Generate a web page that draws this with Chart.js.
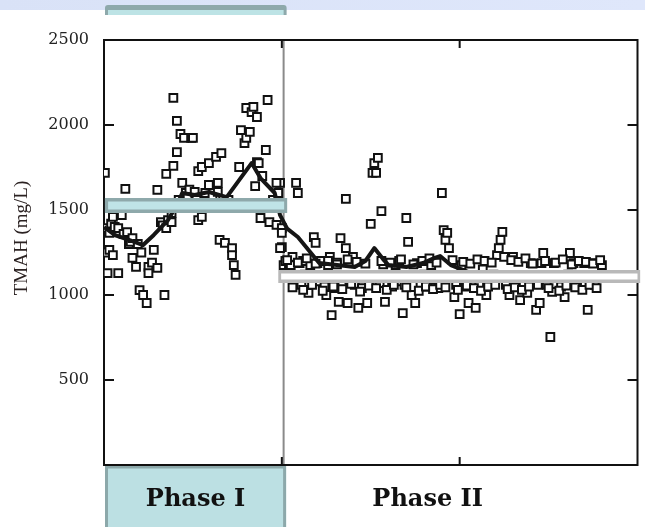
<!DOCTYPE html>
<html>
<head>
<meta charset="utf-8">
<script src="https://cdn.jsdelivr.net/npm/chart.js@4.4.1/dist/chart.umd.min.js"></script>
<style>
  html, body { margin:0; padding:0; background:#fff; }
  #wrap { position:relative; width:645px; height:527px; }
</style>
</head>
<body>
<div id="wrap"><canvas id="c" width="645" height="527"></canvas></div>
<script>
'use strict';

// --- Data (days vs TMAH mg/L) ---
const phase1Day  = [0.5,0.5,1,2,3,3,4,5,5,6,8,8,10,11,12,13,14,15,16,16,18,19,20,21,22,24,25,25,27,28,30,30,32,33,34,35,35,36,38,38,39,39,40,41,41,42,43,44,45,46,47,48,49,50,51,52,53,53,55,55,57,59,59,61,63,64,64,65,66,67,68,70,72,72,73,74,76,77,79,80,80,82,83,84,85,86,86,87,88,89,91,92,93,95,97,97,98,99,100,100];
const phase1Tmah = [1718,1394,1250,1129,1365,1265,1420,1459,1235,1400,1394,1129,1470,1360,1624,1370,1300,1312,1335,1218,1165,1300,1029,1250,1000,953,1165,1129,1190,1265,1159,1618,1429,1410,1000,1394,1712,1440,1429,1482,1759,2159,1520,2024,1841,1560,1947,1659,1924,1600,1570,1620,1924,1924,1606,1560,1729,1441,1753,1459,1600,1776,1647,1580,1812,1659,1606,1324,1835,1560,1306,1560,1276,1235,1176,1118,1753,1970,1894,2100,1924,1959,2076,2106,1640,2047,1782,1776,1453,1700,1853,2147,1429,1560,1659,1412,1600,1276,1394,1365];

const phase2Day  = [99,100,101,102,104,105,106,107,108,109,110,111,112,113,115,116,118,119,120,121,122,124,125,126,127,128,129,130,131,132,133,134,136,136,137,138,140,141,143,145,146,148,150,151,152,153,154,155,156,157,158,160,162,164,165,166,168,169,170,171,172,173,175,176,178,180,182,184,186,188,190,191,192,193,194,195,197,198,200,201,203,205,207,209,211,213,215,217,219,221,222,223,224,225,226,228,230,232,234,236,238,240,242,243,245,246,247,249,251,252,253,255,257,259,261,262,264,266,268,270,272,274,276,278,280,
  103,106,109,112,114,117,119,123,126,129,131,134,137,139,142,144,147,149,153,156,159,161,163,167,170,174,177,179,181,183,185,187,189,192,196,199,202,204,206,208,210,212,214,216,218,220,227,229,231,233,235,237,239,241,244,248,250,254,256,258,260,263,265,267,269,271,273,275,277,279];
const phase2Tmah = [1659,1282,1176,1200,1150,1176,1224,1100,1659,1600,1188,1060,1200,1120,1012,1176,1341,1306,1188,1080,1200,1050,1000,1176,1224,882,1100,1041,1190,959,1335,1070,1276,1565,953,1090,1224,1060,924,1041,1100,953,1418,1718,1776,1718,1806,1070,1494,1180,959,1100,1050,1176,1080,1200,894,1060,1453,1312,1100,1000,953,1188,1060,1120,1050,1176,1090,1040,1600,1382,1324,1365,1276,1100,988,1060,888,1176,1050,953,1100,924,1060,1150,1000,1070,1120,1235,1276,1324,1371,1224,1060,1000,1224,1100,970,1060,1012,1188,1100,912,953,1188,1247,1060,753,1018,1188,1100,1050,988,1120,1247,1188,1060,1100,1188,912,1188,1060,1100,1176,
  1205,1045,1190,1030,1215,1060,1185,1025,1200,1050,1180,1035,1210,1065,1195,1020,1185,1055,1040,1200,1030,1190,1060,1210,1045,1180,1025,1200,1050,1215,1035,1190,1060,1045,1205,1030,1195,1055,1185,1040,1210,1025,1200,1050,1190,1060,1035,1205,1045,1195,1030,1215,1050,1185,1060,1200,1040,1190,1025,1210,1055,1180,1045,1200,1030,1195,1060,1185,1040,1205];

// running trend
const trendDay  = [0,6,14,22,28,36,41,44,51,59,69,76,83,88,96,99,103,109,115,121,131,141,147,152,157,160,170,180,186,189,195,205,230,250,270,280];
const trendTmah = [1400,1353,1324,1294,1353,1441,1529,1600,1588,1606,1576,1676,1776,1688,1600,1470,1390,1341,1265,1188,1176,1165,1200,1276,1210,1176,1165,1190,1218,1229,1176,1135,1125,1130,1125,1130];

// phase means
const phase1Mean = 1526;
const phase2Mean = 1109;
const phaseSplit = 101;

const yTicks = [500,1000,1500,2000,2500];
const xTicks = [100,200];
const phaseLabels = ['Phase I','Phase II'];
const yTitle = 'TMAH (mg/L)';

// --- Utils ---
const pts = (xs, ys) => xs.map((x,i)=>({x, y: ys[i]}));
const hline = (x0, x1, y) => [{x:x0, y}, {x:x1, y}];

const decor = {
  id: 'decor',
  beforeDraw(chart){
    const ctx = chart.ctx;
    const xs = chart.scales.x;
    const W = chart.width, H = chart.height;
    ctx.save();
    // header strip
    const g = ctx.createLinearGradient(0,0,W,0);
    g.addColorStop(0,'#d9e2f7'); g.addColorStop(1,'#dfe7fb');
    ctx.fillStyle = g; ctx.fillRect(0,0,W,10);
    // header teal tab
    const hx0 = xs.getPixelForValue(0)+1, hx1 = xs.getPixelForValue(phaseSplit)+3;
    ctx.fillStyle = '#8ea9ab';
    ctx.beginPath(); ctx.roundRect(hx0, 5, hx1-hx0, 14, 3); ctx.fill();
    ctx.fillStyle = '#bde3e5';
    ctx.fillRect(hx0+3, 10, hx1-hx0-6, 9);
    ctx.fillStyle = '#fff'; ctx.fillRect(0, 15, W, 10);
    // bottom phase I box
    const bx0 = xs.getPixelForValue(0)+1, bx1 = xs.getPixelForValue(phaseSplit)+2.5;
    const by0 = chart.chartArea.bottom + 2;
    ctx.fillStyle = '#bce0e3';
    ctx.fillRect(bx0, by0, bx1-bx0, H-by0);
    ctx.strokeStyle = '#8ca8aa'; ctx.lineWidth = 3;
    ctx.strokeRect(bx0+1.5, by0, bx1-bx0-3, H-by0+5);
    // phase labels
    ctx.fillStyle = '#111';
    ctx.font = 'bold 24px "DejaVu Serif"';
    ctx.textAlign = 'center'; ctx.textBaseline = 'alphabetic';
    ctx.fillText(phaseLabels[0], (bx0+bx1)/2, 506);
    ctx.fillText(phaseLabels[1], xs.getPixelForValue(182), 506);
    // y title
    ctx.translate(22, 238); ctx.rotate(-Math.PI/2);
    ctx.fillStyle = '#2b2222';
    ctx.font = '19px "Liberation Serif"';
    ctx.textBaseline = 'middle';
    ctx.fillText(yTitle, 0, 0);
    ctx.restore();
  },
  beforeDatasetsDraw(chart){
    const ctx = chart.ctx, a = chart.chartArea;
    const xs = chart.scales.x, ys = chart.scales.y;
    ctx.save();
    // phase divider
    const dx = xs.getPixelForValue(phaseSplit);
    ctx.strokeStyle = '#8a8a8a'; ctx.lineWidth = 2;
    ctx.beginPath(); ctx.moveTo(dx, a.top); ctx.lineTo(dx, a.bottom); ctx.stroke();
    // frame
    ctx.strokeStyle = '#111'; ctx.lineWidth = 2;
    ctx.strokeRect(a.left, a.top, a.right-a.left, a.bottom-a.top);
    // inward tick marks
    ctx.beginPath();
    yTicks.filter(v=>v<2500).forEach(v=>{
      const y = ys.getPixelForValue(v);
      ctx.moveTo(a.left, y); ctx.lineTo(a.left+10, y);
      ctx.moveTo(a.right, y); ctx.lineTo(a.right-10, y);
    });
    xTicks.forEach(v=>{
      const x = xs.getPixelForValue(v);
      ctx.moveTo(x, a.top); ctx.lineTo(x, a.top+8);
      ctx.moveTo(x, a.bottom); ctx.lineTo(x, a.bottom-8);
    });
    ctx.stroke();
    ctx.restore();
  }
};

const pointStyle = { pointStyle:'rect', pointRadius:5.5, pointBorderWidth:2, pointBorderColor:'#111', pointBackgroundColor:'#fff', showLine:false };

new Chart(document.getElementById('c'), {
  type: 'scatter',
  data: {
    datasets: [
      { label:'Phase I mean inner', data: hline(2.3, 101.3, phase1Mean), showLine:true, borderColor:'#bfe4e7', borderWidth:8, pointRadius:0, order:1 },
      { label:'Phase I mean', data: hline(0.5, 103, phase1Mean), showLine:true, borderColor:'#8ea9ab', borderWidth:15, pointRadius:0, order:2 },
      { label:'Phase II mean inner', data: hline(99.6, 300, phase2Mean), showLine:true, borderColor:'#ffffff', borderWidth:6, pointRadius:0, order:1, clip:8 },
      { label:'Phase II mean', data: hline(98, 301.5, phase2Mean), showLine:true, borderColor:'#b9b9b9', borderWidth:13, pointRadius:0, order:2, clip:8 },
      { label:'Trend', data: pts(trendDay, trendTmah), showLine:true, borderColor:'#151515', borderWidth:4, pointRadius:0, borderJoinStyle:'round', order:3 },
      Object.assign({ label:'Phase I', data: pts(phase1Day, phase1Tmah), order:4 }, pointStyle),
      Object.assign({ label:'Phase II', data: pts(phase2Day, phase2Tmah), order:4 }, pointStyle)
    ]
  },
  options: {
    responsive: false,
    animation: false,
    layout: { padding: { top: 40, right: 4, bottom: 62, left: 0 } },
    plugins: { legend: { display:false }, tooltip: { enabled:false } },
    scales: {
      x: { type:'linear', min:0, max:300, display:false },
      y: {
        type:'linear', min:0, max:2500,
        afterBuildTicks: s => { s.ticks = yTicks.map(v=>({value:v})); },
        afterFit: s => { s.width = 104; },
        grid: { display:false, drawTicks:false },
        border: { display:false },
        ticks: { padding:15, color:'#222', font:{ family:'DejaVu Serif', size:16 }, callback: v => String(v) }
      }
    }
  },
  plugins: [decor]
});
</script>
</body>
</html>
